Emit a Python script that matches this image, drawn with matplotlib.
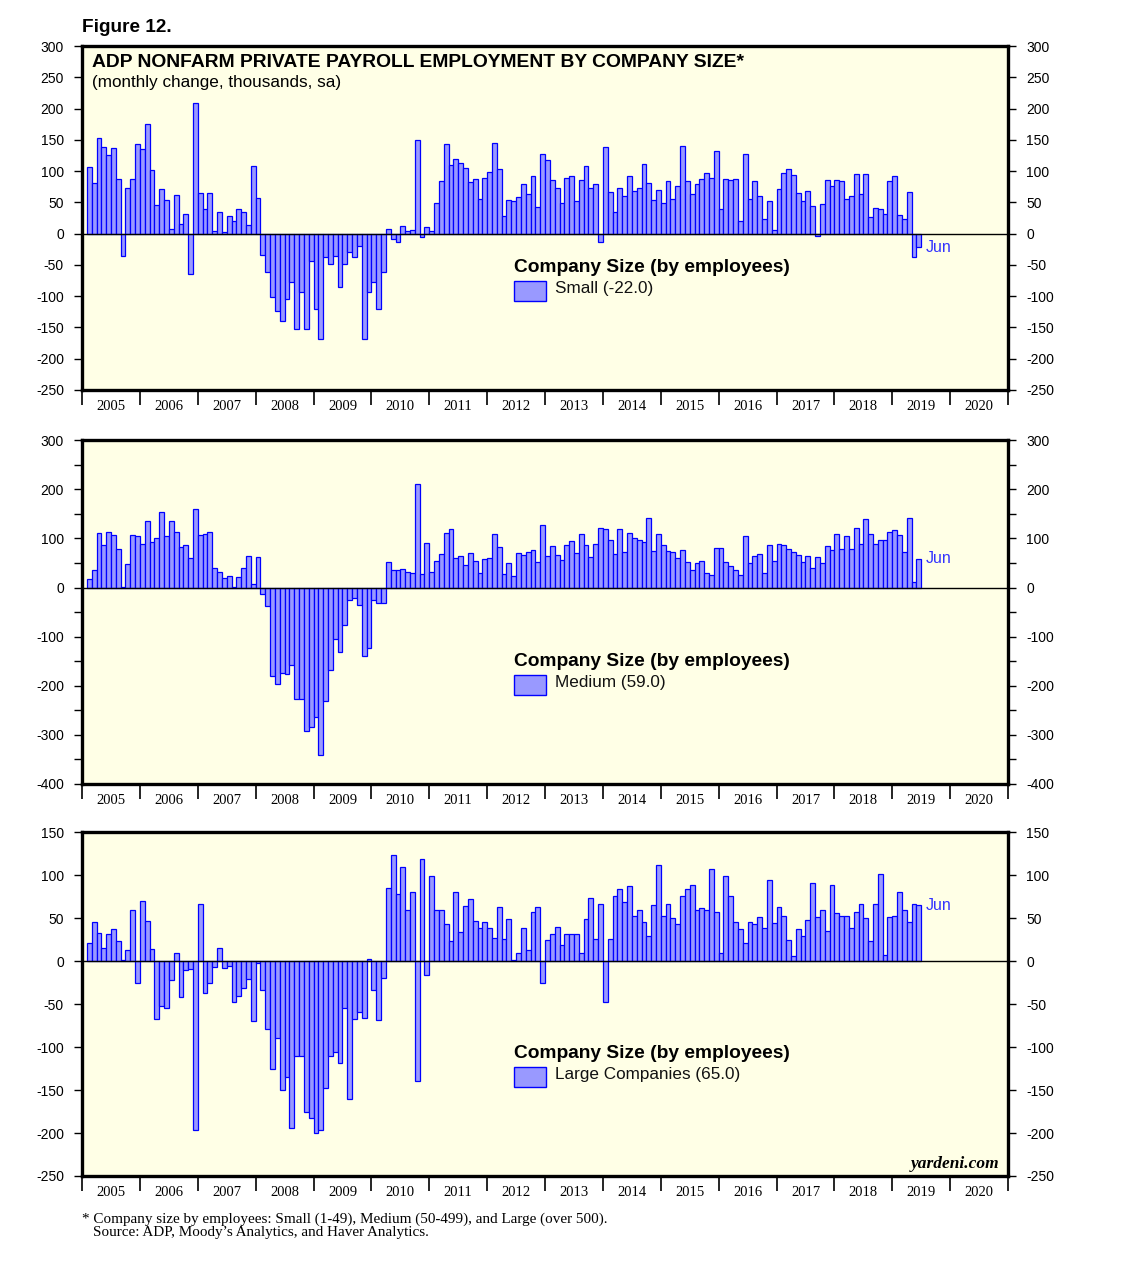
import matplotlib
matplotlib.use("Agg")
import matplotlib.pyplot as plt
from matplotlib.patches import Rectangle
import numpy as np

plt.rcParams['font.family'] = ['Liberation Sans', 'DejaVu Sans']

# monthly change, thousands, Feb 2005 .. Jun 2019
small = [107, 81, 153, 139, 126, 137, 88, -35, 73, 88, 144,
         136, 176, 102, 46, 72, 54, 8, 62, 16, 32, -64, 209,
         65, 40, 65, 5, 34, 2, 29, 21, 40, 35, 14, 109,
         57, -34, -62, -102, -123, -140, -105, -78, -152, -94, -152, -43,
         -120, -168, -38, -49, -35, -85, -49, -29, -38, -19, -168, -93,
         -78, -120, -62, 8, -8, -13, 13, 5, 6, 150, -6, 11,
         5, 49, 85, 144, 110, 120, 113, 105, 83, 88, 56, 89,
         99, 145, 104, 29, 54, 53, 59, 80, 64, 93, 43, 128,
         118, 86, 73, 49, 89, 93, 53, 86, 109, 73, 80, -13,
         139, 67, 34, 73, 61, 93, 69, 73, 112, 81, 54, 70,
         49, 85, 56, 77, 140, 85, 64, 80, 88, 97, 89, 132,
         40, 88, 86, 88, 21, 128, 56, 85, 61, 24, 53, 6,
         72, 97, 104, 94, 65, 53, 69, 45, -3, 48, 86, 77,
         86, 85, 56, 61, 96, 64, 96, 27, 41, 40, 32, 85,
         93, 30, 24, 67, -38, -22]

medium = [18, 36, 112, 87, 114, 107, 79, 1, 48, 107, 105,
          89, 136, 93, 101, 154, 105, 136, 114, 83, 87, 61, 159,
          107, 110, 114, 40, 32, 20, 24, 1, 22, 40, 65, 7,
          63, -13, -37, -180, -197, -174, -176, -158, -227, -227, -293, -284,
          -264, -341, -231, -168, -105, -131, -76, -25, -21, -35, -139, -123,
          -25, -31, -31, 52, 36, 36, 38, 32, 30, 210, 28, 91,
          32, 54, 69, 112, 120, 61, 65, 46, 71, 54, 30, 59,
          61, 110, 83, 28, 50, 24, 71, 67, 73, 77, 52, 128,
          65, 85, 67, 56, 87, 95, 71, 110, 87, 63, 89, 122,
          120, 97, 69, 120, 73, 112, 101, 97, 93, 142, 75, 110,
          87, 75, 73, 61, 77, 52, 36, 50, 54, 30, 26, 81,
          81, 52, 44, 36, 26, 105, 50, 65, 69, 30, 87, 54,
          89, 87, 79, 73, 67, 52, 65, 40, 63, 50, 85, 77,
          110, 79, 105, 79, 122, 89, 140, 110, 89, 97, 97, 114,
          118, 107, 73, 142, 12, 59]

large = [21, 45, 33, 15, 31, 37, 23, 1, 13, 59, -26,
         70, 47, 14, -67, -52, -55, -22, 9, -42, -10, -9, -197,
         66, -37, -26, -7, 15, -8, -6, -48, -41, -31, -21, -70,
         -2, -34, -79, -126, -90, -150, -135, -194, -110, -110, -176, -183,
         -200, -197, -148, -110, -106, -119, -55, -160, -67, -59, -66, 3,
         -34, -69, -20, 85, 123, 78, 109, 60, 81, -140, 119, -16,
         99, 59, 59, 43, 23, 81, 34, 64, 72, 47, 38, 45,
         38, 27, 63, 26, 49, 1, 10, 38, 13, 57, 63, -26,
         24, 31, 40, 19, 31, 31, 31, 10, 49, 73, 26, 66,
         -47, 26, 76, 84, 69, 87, 53, 59, 45, 29, 65, 112,
         52, 66, 50, 43, 76, 84, 88, 60, 62, 59, 107, 57,
         9, 99, 76, 45, 37, 21, 45, 43, 51, 38, 94, 44,
         63, 53, 24, 6, 37, 29, 48, 91, 51, 60, 35, 88,
         56, 53, 52, 38, 57, 66, 50, 23, 66, 101, 7, 51,
         52, 81, 60, 45, 67, 65]

series_labels = ['Small (-22.0)', 'Medium (59.0)', 'Large Companies (65.0)']
years = list(range(2005, 2021))

# month start positions in decimal years, first value is Feb 2005
months = 2005 + (np.arange(len(small)) + 1) / 12.0

BG = '#FFFFE6'
FACE = '#9999FF'
EDGE = '#0000FF'

fig = plt.figure(figsize=(11.38, 12.69), dpi=100)

panels = [
    (small, series_labels[0], (-250, 300), np.arange(-250, 301, 50), None, 0.6927),
    (medium, series_labels[1], (-400, 300), np.arange(-400, 301, 100), np.arange(-350, 301, 100), 0.3822),
    (large, series_labels[2], (-250, 150), np.arange(-250, 151, 50), None, 0.0733),
]

for k, (vals, lab, ylim, yt, yminor, bottom) in enumerate(panels):
    ax = fig.add_axes([0.0721, bottom, 0.8137, 0.2709])
    ax.set_facecolor(BG)
    ax.bar(months, vals, width=1 / 12.0, align='edge', color=FACE,
           edgecolor=EDGE, linewidth=0.9)
    ax.axhline(0, color='black', linewidth=1.0)
    ax.set_xlim(2005, 2021)
    ax.set_ylim(*ylim)

    ax.set_yticks(yt)
    ax.set_yticklabels([str(v) for v in yt])
    if yminor is not None:
        ax.set_yticks(yminor, minor=True)
    ax.tick_params(axis='y', which='both', direction='out', length=6, width=1,
                   left=True, right=True, labelleft=True, labelright=True,
                   labelsize=10, pad=7)

    ax.set_xticks(years + [2021])
    ax.set_xticklabels([])
    ax.set_xticks(np.array(years) + 0.5, minor=True)
    ax.set_xticklabels([str(y) for y in years], minor=True,
                       family='Liberation Serif', fontsize=10.5)
    ax.tick_params(axis='x', which='major', direction='out', length=11, width=1.2)
    ax.tick_params(axis='x', which='minor', length=0, pad=7)

    for s in ax.spines.values():
        s.set_linewidth(2.4)

    # legend block
    ax.text(0.4665, 0.3555, 'Company Size (by employees)', transform=ax.transAxes,
            fontsize=13.8, fontweight='bold', ha='left', va='center')
    ax.add_patch(Rectangle((0.4665, 0.259), 0.0346, 0.058, transform=ax.transAxes,
                           facecolor=FACE, edgecolor=EDGE, linewidth=1.0))
    ax.text(0.511, 0.296, lab, transform=ax.transAxes, fontsize=12.3,
            ha='left', va='center', color='#111111')

    ax.text(months[-1] + 1 / 12.0 + 0.07, vals[-1], 'Jun', color='#3333FF',
            fontsize=11.5, ha='left', va='center')

    if k == 0:
        ax.text(0.0108, 0.953, 'ADP NONFARM PRIVATE PAYROLL EMPLOYMENT BY COMPANY SIZE*',
                transform=ax.transAxes, fontsize=13.9, fontweight='bold',
                ha='left', va='center')
        ax.text(0.0108, 0.895, '(monthly change, thousands, sa)',
                transform=ax.transAxes, fontsize=12.3, ha='left', va='center')
    if k == 2:
        ax.text(0.991, 0.035, 'yardeni.com', transform=ax.transAxes,
                family='Liberation Serif', style='italic', fontweight='bold',
                fontsize=12.5, ha='right', va='center')

fig.text(0.072, 0.978, 'Figure 12.', fontsize=13.7, fontweight='bold',
         ha='left', va='center')
fig.text(0.072, 0.0395, '* Company size by employees: Small (1-49), Medium (50-499), and Large (over 500).',
         family='Liberation Serif', fontsize=10.9, ha='left', va='center')
fig.text(0.0817, 0.0285, 'Source: ADP, Moody\u2019s Analytics, and Haver Analytics.',
         family='Liberation Serif', fontsize=10.9, ha='left', va='center')

fig.savefig('out.png', dpi=100, facecolor='white')
